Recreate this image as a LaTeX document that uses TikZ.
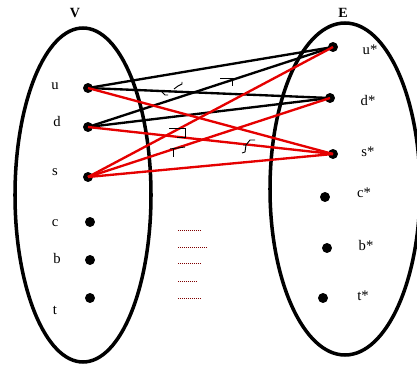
\documentclass[tikz,border=0pt]{standalone}
\usepackage{fontspec}
\setmainfont{Liberation Serif}
\begin{document}
\begin{tikzpicture}[x=0.03cm, y=-0.03cm,
    dot/.style={circle, fill=black, inner sep=0pt, minimum size=8.5pt},
    lbl/.style={font=\fontsize{12.5}{12.5}\selectfont, inner sep=0pt},
    setname/.style={font=\bfseries\fontsize{12}{12}\selectfont, inner sep=0pt},
    blackedge/.style={black, line width=2pt},
    rededge/.style={red!90!black, line width=2pt},
    hook/.style={black, line width=0.8pt},
    gap/.style={red!50!black, densely dotted, line width=0.7pt}]
    \useasboundingbox (0,0) rectangle (417,368);
    \clip (0,0) rectangle (417,368);

    % Draw the two sets
    \draw[line width=3pt] (83,195) ellipse [x radius=68, y radius=167];
    \draw[line width=3pt] (345,189) ellipse [x radius=75, y radius=166];
    \node[setname] (V) at (75,13) {V};
    \node[setname] (E) at (343,13) {E};

    % Vertices of V
    \node[dot] (u) at (88,88) {};
    \node[dot] (d) at (88,127) {};
    \node[dot] (s) at (88,177) {};
    \node[dot] (c) at (90,222) {};
    \node[dot] (b) at (90,260) {};
    \node[dot] (t) at (90,298) {};
    \node[lbl] (ul) at (55,86) {u};
    \node[lbl] (dl) at (57,121) {d};
    \node[lbl] (sl) at (55,172) {s};
    \node[lbl] (cl) at (55,223) {c};
    \node[lbl] (bl) at (57,258) {b};
    \node[lbl] (tl) at (55,310) {t};

    % Vertices of E
    \node[dot] (us) at (333,47) {};
    \node[dot] (ds) at (330,98) {};
    \node[dot] (ss) at (333,154) {};
    \node[dot] (cs) at (325,197) {};
    \node[dot] (bs) at (327,248) {};
    \node[dot] (ts) at (323,298) {};
    \node[lbl] (usl) at (370,50) {u*};
    \node[lbl] (dsl) at (368,100) {d*};
    \node[lbl] (ssl) at (368,152) {s*};
    \node[lbl] (csl) at (364,193) {c*};
    \node[lbl] (bsl) at (366,245) {b*};
    \node[lbl] (tsl) at (363,296) {t*};

    % Black edges
    \draw[blackedge] (u.center) -- (us.center);
    \draw[blackedge] (u.center) -- (ds.center);
    \draw[blackedge] (d.center) -- (us.center);
    \draw[blackedge] (d.center) -- (ds.center);

    % Red edges
    \draw[rededge] (u.center) -- (ss.center);
    \draw[rededge] (d.center) -- (ss.center);
    \draw[rededge] (s.center) -- (us.center);
    \draw[rededge] (s.center) -- (ds.center);
    \draw[rededge] (s.center) -- (ss.center);

    % Small marks on the edges
    \draw[hook] (161,91) -- (165,95) -- (168,95);
    \draw[hook] (174,89) -- (178,86) -- (182,84) -- (182,82);
    \draw[hook] (220,78) -- (236,78);
    \draw[hook] (232,78) -- (232,86);
    \draw[hook] (169,128) -- (185,128) -- (185,137) -- (177,137);
    \draw[hook] (170,149) -- (185,147);
    \draw[hook] (173,149) -- (173,157);
    \draw[hook] (255,140) -- (250,140) -- (246,145) -- (243,145);
    \draw[hook] (246,145) -- (245,152) -- (242,153);

    % Dotted lines in the gap
    \draw[gap] (178,230) -- (201,230);
    \draw[gap] (178,247) -- (206,247);
    \draw[gap] (178,263) -- (201,263);
    \draw[gap] (178,281) -- (196,281);
    \draw[gap] (178,298) -- (201,298);
\end{tikzpicture}
\end{document}
